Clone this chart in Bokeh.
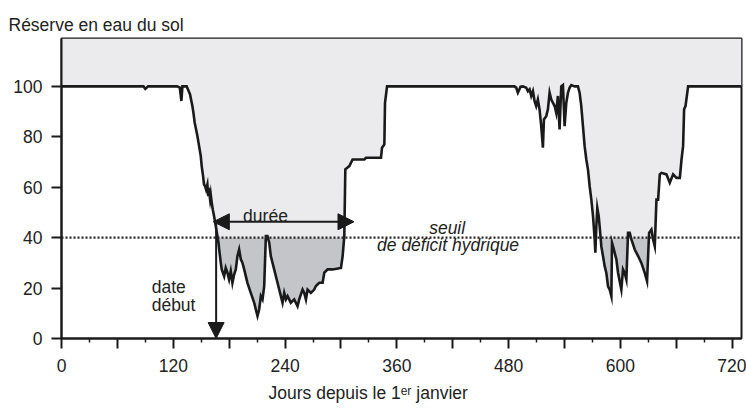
import numpy as np
from bokeh.plotting import figure
from bokeh.models import FixedTicker, Span, Arrow, NormalHead, Label, Title
from bokeh.embed import file_html
from bokeh.resources import INLINE

# ---- data ----
days = [0, 88, 90, 93, 124, 127, 128.7, 129.8, 134.4, 135.8, 138, 139.4, 140.5, 141.6, 143, 144.1,
        145.9, 147.7, 149.5, 150.5, 152, 153, 154.1, 155.2, 156.6, 157.3, 158.4, 159.5, 160.2, 161.3,
        162.4, 163.8, 165.6, 167.4, 168.5, 169.5, 171, 172, 174.6, 176.3, 178.1, 179.9, 181.7, 183.5,
        185.3, 187.1, 188.9, 190.7, 192.5, 194.3, 196.1, 199.6, 203.2, 206.8, 210.4, 212.2, 214, 215.8,
        217.6, 219.4, 221.1, 223, 224.7, 228.3, 231.9, 235.5, 237.3, 239.1, 240.9, 242.7, 246.2, 249.8,
        253.4, 255.2, 258.8, 260.6, 262.4, 264.2, 267.7, 271.3, 273.1, 276.7, 280.3, 282.1, 285.7, 291,
        300, 301.8, 303.6, 304.7, 309, 312.5, 325.1, 326.9, 343, 344.1, 346.6, 347.3, 349.5,
        486.3, 488.1, 489.9, 492.8, 495.3, 498.9, 500.7, 502.5, 504.3, 506.1, 507.8, 509.6, 511.4, 513.2,
        515.0, 516.8, 517.9, 520.4, 522.2, 524.0, 525.8, 527.6, 529.4, 531.1, 532.9, 534.7, 536.5, 538.3,
        540.1, 541.9, 543.7, 545.5, 547.3, 550.9, 554.4, 556.2, 558.0, 559.8, 561.6, 563.4, 565.2, 567.0,
        568.8, 570.6, 572.4, 573.1, 574.2, 575.2, 576.7, 577.7, 579.5, 581.3, 583.1, 584.9, 586.7, 588.5,
        590.3, 591.0, 592.1, 593.9, 595.7, 597.5, 601.0, 602.8, 604.6, 606.4, 608.2, 610.0, 611.8, 615.4,
        619.0, 622.5, 626.1, 628.6, 630.8, 633.3, 635.1, 636.9, 638.7, 640.5, 642.3, 644.1, 649.4, 653.0,
        656.6, 660.2, 663.8, 665.6, 667.3, 668.4, 669.9, 672.7, 730]
reserve = [100, 100, 99, 100, 100, 99.5, 94.2, 100, 100, 98.8, 96.8, 94.2, 92.2, 89.6, 85.6, 83.6,
           80.3, 76.3, 72.4, 68.4, 64.4, 61.1, 60.5, 59.1, 61.1, 57.8, 58.5, 55.2, 57.2, 53.8,
           51.2, 48.5, 44.6, 40.6, 38.0, 34.7, 30, 27.4, 24.7, 28, 26.1, 23.4, 26.7, 22.1,
           25.4, 27.4, 32.7, 35.3, 31.4, 30, 27.4, 22.1, 18.1, 14.2, 8.9, 11.5, 16.8, 15.5,
           20.8, 40.6, 40.6, 38, 32.7, 27.4, 22.1, 16.8, 14.2, 18.1, 15.5, 16.8, 14.2, 15.5,
           12.8, 15.5, 19.4, 18.1, 15.5, 19.4, 18.1, 19.4, 20.8, 22.1, 22.1, 26.1, 27.4, 27.4,
           28, 32.7, 40.6, 67.1, 68.4, 71, 71, 71.7, 71.7, 75.7, 77, 93.5, 100,
           100, 99.5, 97.5, 99.9, 100, 99.5, 98.1, 98.8, 96.2, 98.1, 94.2, 92.2, 94.8, 90.9,
           84.2, 75.7, 86.9, 88.2, 90.9, 97.5, 94.8, 93.5, 92.2, 89.5, 96.2, 82.9, 100, 100.5,
           84.2, 93.5, 97.5, 99.5, 100.5, 100, 100, 97.5, 92.2, 84.2, 76.3, 71.0, 67.0, 60.4,
           55.1, 48.5, 39.3, 34.0, 44.6, 51.8, 48.5, 44.6, 36.6, 32.7, 28.7, 26.0, 20.7, 19.4,
           16.8, 38.0, 36.6, 34.0, 31.3, 26.0, 19.4, 27.4, 26.0, 23.4, 41.9, 41.9, 39.3, 35.3,
           32.7, 30.0, 26.0, 22.7, 41.9, 43.2, 39.3, 36.6, 55.1, 55.1, 65.1, 65.7, 65.1, 61.8,
           65.1, 63.7, 63.7, 71.0, 76.3, 90.9, 92.2, 100, 100]

x_ticks = [0, 60, 120, 180, 240, 300, 360, 420, 480, 540, 600, 660, 720]
x_minor = [30, 90, 150, 210, 270, 330, 390, 450, 510, 570, 630, 690]
x_labeled = [0, 120, 240, 360, 480, 600, 720]
y_ticks = [0, 20, 40, 60, 80, 100]
seuil = 40
top = 119
date_debut = 166
duree_start, duree_end, duree_level = 163, 314, 46.3

FONT = "Liberation Sans"
FS = "17.5px"
INK = "#1a1a1a"
TXT = "#222222"

p = figure(width=746, height=408, x_range=(0, 730), y_range=(0, top),
           output_backend="svg", toolbar_location=None,
           title="Réserve en eau du sol",
           min_border_left=61, min_border_right=5, min_border_top=38, min_border_bottom=69)
p.title.align = "left"
p.title.offset = -53
p.title.text_font = FONT
p.title.text_font_size = FS
p.title.text_font_style = "normal"
p.title.text_color = TXT
p.title.standoff = 8

p.xgrid.visible = False
p.ygrid.visible = False
p.outline_line_color = INK
p.outline_line_width = 2
p.background_fill_color = "white"
p.border_fill_color = "white"

# fills
y_arr = np.array(reserve, dtype=float)
p.varea(x=days, y1=reserve, y2=top, fill_color="#ebebed")
p.varea(x=days, y1=np.minimum(y_arr, seuil), y2=seuil, fill_color="#c4c5c9")
p.line(days, reserve, line_width=2.6, line_color=INK, line_join="miter")

p.add_layout(Span(location=seuil, dimension="width", line_dash="2 2",
                  line_width=2.2, line_color="#262626"))

# axes
p.xaxis.ticker = FixedTicker(ticks=x_ticks, minor_ticks=x_minor)
p.xaxis.major_label_overrides = {t: ("" if t not in x_labeled else str(t)) for t in x_ticks}
p.yaxis.ticker = FixedTicker(ticks=y_ticks)
for ax in (p.xaxis[0], p.yaxis[0]):
    ax.axis_line_width = 2
    ax.axis_line_color = INK
    ax.major_tick_line_color = INK
    ax.major_tick_line_width = 2
    ax.major_tick_in = 0
    ax.major_tick_out = 10
    ax.major_label_text_font = FONT
    ax.major_label_text_font_size = FS
    ax.major_label_text_color = TXT
p.xaxis.minor_tick_in = 0
p.xaxis.minor_tick_out = 4
p.xaxis.minor_tick_line_width = 1.5
p.xaxis.minor_tick_line_color = INK
p.xaxis.major_label_standoff = 10
p.yaxis.minor_tick_line_color = None
p.yaxis.major_label_standoff = 9

# x axis title (placed left-aligned like the reference)
xtitle = Title(text="Jours depuis le 1ᵉʳ janvier", align="left", offset=207,
               text_font=FONT, text_font_size=FS, text_font_style="normal",
               text_color=TXT, standoff=12)
p.add_layout(xtitle, "below")

# arrows
def head():
    return NormalHead(size=16, fill_color=INK, line_color=INK, line_width=1)

p.add_layout(Arrow(end=head(), x_start=date_debut, y_start=duree_level,
                   x_end=date_debut, y_end=0, line_width=2, line_color=INK))
p.add_layout(Arrow(start=head(), end=head(), x_start=duree_start, y_start=duree_level,
                   x_end=duree_end, y_end=duree_level, line_width=2, line_color=INK))

def lab(x, y, text, align="left", size=FS, style="normal"):
    p.add_layout(Label(x=x, y=y, text=text, text_align=align, text_baseline="alphabetic",
                       text_font=FONT, text_font_size=size, text_font_style=style,
                       text_color=TXT))

lab(219, 48.4, "durée", align="center")
lab(96.8, 20.6, "date")
lab(96.8, 13.1, "début")
lab(414, 44.0, "seuil", align="center", style="italic")
lab(415, 36.9, "de déficit hydrique", align="center", style="italic")

open("out.html", "w").write(file_html(p, INLINE))
